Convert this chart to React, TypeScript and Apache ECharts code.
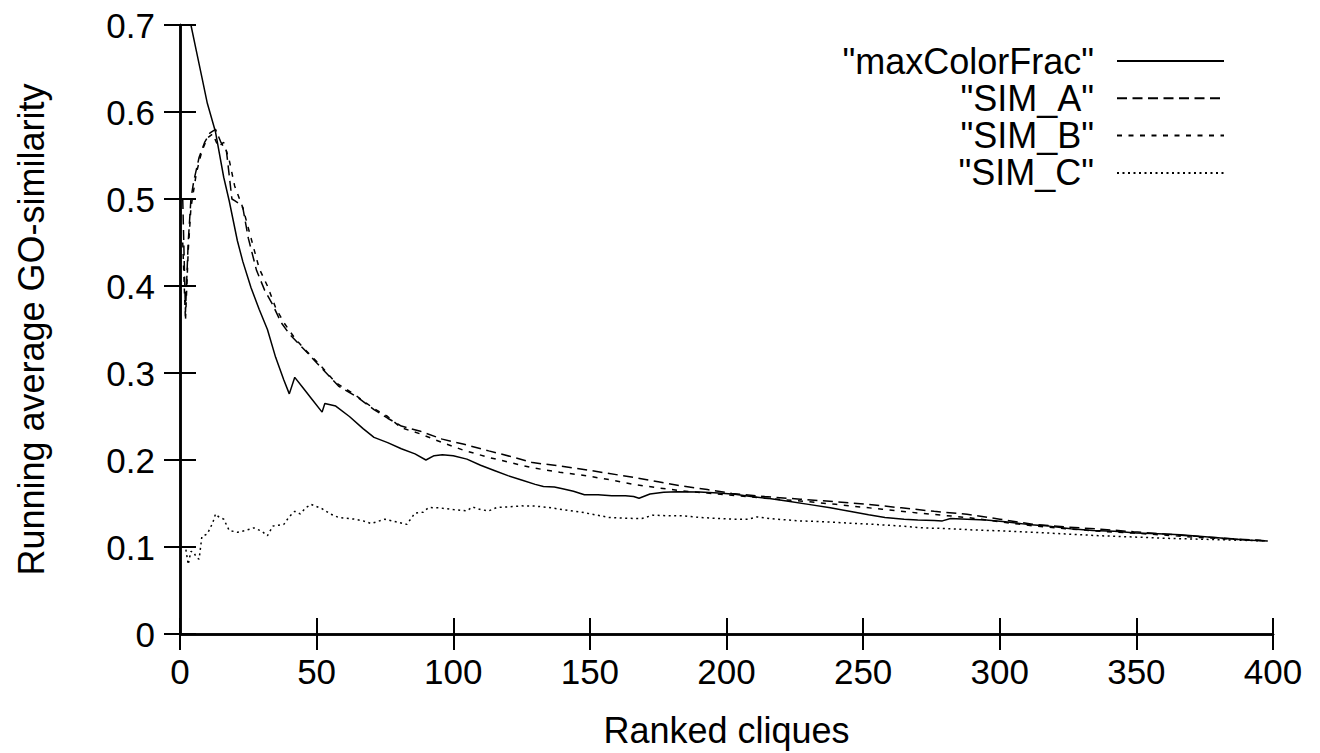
import React, { useEffect, useRef } from "react";
import * as echarts from "echarts";

const xTickValues = [0, 50, 100, 150, 200, 250, 300, 350, 400];
const yTickValues = [0, 0.1, 0.2, 0.3, 0.4, 0.5, 0.6, 0.7];

const seriesNames = ['"maxColorFrac"', '"SIM_A"', '"SIM_B"', '"SIM_C"'];

const maxColorFracX = [1, 2, 3, 4, 6, 8, 10, 13, 16, 18, 21, 23, 26, 29, 32, 35, 38, 40, 42, 45, 48, 52, 53, 57, 62, 67, 71, 76, 81, 86, 90, 93, 96, 100, 105, 110, 115, 120, 125, 130, 133, 137, 140, 144, 148, 153, 158, 163, 166, 168, 172, 177, 182, 190, 197, 203, 209, 215, 222, 230, 238, 245, 252, 258, 265, 270, 276, 279, 282, 288, 295, 302, 310, 318, 326, 334, 342, 350, 358, 366, 374, 382, 390, 398];
const maxColorFracY = [0.95, 0.82, 0.75, 0.7, 0.67, 0.64, 0.61, 0.577, 0.525, 0.498, 0.452, 0.428, 0.398, 0.373, 0.35, 0.318, 0.292, 0.276, 0.295, 0.283, 0.271, 0.255, 0.265, 0.262, 0.25, 0.236, 0.226, 0.22, 0.213, 0.207, 0.2, 0.205, 0.206, 0.205, 0.201, 0.194, 0.188, 0.182, 0.177, 0.172, 0.1695, 0.169, 0.167, 0.164, 0.16, 0.16, 0.159, 0.159, 0.158, 0.156, 0.161, 0.163, 0.1635, 0.1633, 0.162, 0.1605, 0.158, 0.156, 0.153, 0.149, 0.145, 0.141, 0.137, 0.134, 0.132, 0.131, 0.1305, 0.13, 0.1327, 0.132, 0.131, 0.129, 0.126, 0.124, 0.121, 0.119, 0.118, 0.116, 0.1152, 0.114, 0.112, 0.11, 0.108, 0.107];

const simAX = [1, 2, 3, 4, 5, 7, 9, 11, 13, 15, 17, 19, 20, 22, 23, 25, 28, 31, 34, 37, 40, 43, 47, 52, 58, 65, 71, 76, 81, 88, 96, 104, 113, 121, 129, 137, 146, 156, 166, 175, 184, 193, 202, 214, 227, 240, 252, 264, 276, 288, 300, 312, 324, 337, 349, 361, 373, 385, 398];
const simAY = [0.5, 0.37, 0.45, 0.5, 0.52, 0.548, 0.565, 0.576, 0.58, 0.565, 0.555, 0.5, 0.498, 0.494, 0.49, 0.455, 0.418, 0.395, 0.378, 0.358, 0.345, 0.335, 0.322, 0.305, 0.285, 0.272, 0.258, 0.248, 0.239, 0.233, 0.224, 0.218, 0.2105, 0.204, 0.197, 0.194, 0.19, 0.185, 0.18, 0.175, 0.17, 0.166, 0.1615, 0.158, 0.155, 0.152, 0.149, 0.145, 0.141, 0.1377, 0.132, 0.1262, 0.123, 0.1205, 0.1175, 0.1148, 0.112, 0.1095, 0.1071];

const simBX = [1, 2, 3, 4, 6, 8, 10, 12, 14, 16, 18, 20, 23, 26, 29, 32, 35, 38, 42, 46, 51, 57, 64, 71, 76, 81, 88, 96, 104, 113, 121, 129, 139, 149, 158, 166, 175, 184, 193, 202, 214, 227, 240, 257, 272, 288, 300, 312, 324, 337, 349, 361, 373, 385, 398];
const simBY = [0.45, 0.36, 0.44, 0.49, 0.53, 0.555, 0.57, 0.575, 0.56, 0.565, 0.545, 0.515, 0.49, 0.455, 0.42, 0.4, 0.375, 0.358, 0.34, 0.326, 0.31, 0.289, 0.275, 0.259, 0.25, 0.237, 0.23, 0.22, 0.211, 0.203, 0.197, 0.191, 0.186, 0.1817, 0.177, 0.172, 0.168, 0.1645, 0.162, 0.1595, 0.156, 0.153, 0.149, 0.1434, 0.1385, 0.1339, 0.129, 0.1243, 0.121, 0.118, 0.116, 0.1135, 0.111, 0.109, 0.107];

const simCX = [1, 2, 3, 4, 5, 6, 7, 8, 10, 12, 13, 14, 16, 18, 21, 24, 27, 30, 32, 34, 36, 38, 40, 42, 44, 46, 48, 52, 55, 58, 61, 64, 67, 70, 73, 75, 79, 83, 86, 89, 91, 95, 100, 105, 107, 110, 113, 116, 120, 125, 130, 135, 141, 147, 152, 157, 163, 169, 173, 178, 184, 190, 196, 202, 208, 211, 218, 227, 236, 245, 254, 263, 272, 282, 291, 300, 312, 324, 337, 349, 361, 373, 385, 398];
const simCY = [0.1, 0.1, 0.08, 0.095, 0.094, 0.088, 0.086, 0.112, 0.115, 0.128, 0.138, 0.135, 0.132, 0.119, 0.117, 0.119, 0.122, 0.118, 0.113, 0.124, 0.125, 0.126, 0.135, 0.141, 0.138, 0.145, 0.149, 0.144, 0.138, 0.134, 0.133, 0.132, 0.13, 0.127, 0.13, 0.132, 0.129, 0.126, 0.139, 0.14, 0.1454, 0.145, 0.143, 0.1415, 0.146, 0.143, 0.1415, 0.1454, 0.146, 0.1473, 0.147, 0.1454, 0.1425, 0.14, 0.137, 0.134, 0.133, 0.1327, 0.1366, 0.136, 0.1358, 0.134, 0.133, 0.132, 0.132, 0.1346, 0.132, 0.13, 0.129, 0.1274, 0.126, 0.1243, 0.122, 0.121, 0.1195, 0.1186, 0.117, 0.115, 0.1129, 0.1115, 0.11, 0.109, 0.108, 0.107];

const FONT = "Liberation Sans, Arial, sans-serif";
const FS_TICK = 35;
const FS_TEXT = 36;

function pairs(xs: number[], ys: number[]) {
  return xs.map((x, i) => [x, ys[i]]);
}

export default function App() {
  const ref = useRef<HTMLDivElement>(null);
  useEffect(() => {
    document.body.style.margin = "0";
    if (!ref.current) return;
    const chart = echarts.init(ref.current, null, { renderer: "svg" });
    const xMin = xTickValues[0];
    const xMax = xTickValues[xTickValues.length - 1];
    const yMin = yTickValues[0];
    const yMax = yTickValues[yTickValues.length - 1];
    const axisCommon = {
      axisLine: { show: true, lineStyle: { color: "#000", width: 2.5 } },
      axisTick: { show: true, inside: true, length: 16, lineStyle: { color: "#000", width: 2 } },
      splitLine: { show: false },
    };
    const mk = (name: string, data: number[][], type: any) => ({
      name,
      type: "line",
      data,
      symbol: "none",
      showSymbol: false,
      clip: true,
      lineStyle: { color: "#000", width: 1.5, type },
      itemStyle: { color: "#000" },
      emphasis: { disabled: true },
    });
    chart.setOption({
      animation: false,
      backgroundColor: "#fff",
      textStyle: { fontFamily: FONT },
      grid: { left: 180, right: 47, top: 25, bottom: 118, containLabel: false },
      legend: {
        orient: "vertical",
        align: "right",
        right: 90,
        top: 38,
        itemWidth: 107,
        itemHeight: 14,
        itemGap: 1.3,
        selectedMode: false,
        data: seriesNames,
        itemStyle: { opacity: 0, borderWidth: 0 },
        textStyle: { fontSize: FS_TEXT, color: "#000", fontFamily: FONT, lineHeight: 33.3, padding: [0, 18, 0, 0] },
      },
      xAxis: [
        {
          type: "value",
          min: xMin,
          max: xMax,
          interval: 50,
          position: "bottom",
          ...axisCommon,
          axisLabel: { color: "#000", fontSize: FS_TICK, fontFamily: FONT, margin: 20 },
          name: "Ranked cliques",
          nameLocation: "middle",
          nameGap: 78,
          nameTextStyle: { color: "#000", fontSize: FS_TEXT, fontFamily: FONT },
        },
        {
          type: "value",
          min: xMin,
          max: xMax,
          interval: 50,
          position: "top",
          ...axisCommon,
          axisLabel: { show: false },
        },
      ],
      yAxis: [
        {
          type: "value",
          min: yMin,
          max: yMax,
          interval: 0.1,
          position: "left",
          ...axisCommon,
          axisLabel: {
            color: "#000",
            fontSize: FS_TICK,
            fontFamily: FONT,
            margin: 25,
            formatter: (v: number) => (v === 0 ? "0" : v.toFixed(1)),
          },
          name: "Running average GO-similarity",
          nameLocation: "middle",
          nameRotate: 90,
          nameGap: 131,
          nameTextStyle: { color: "#000", fontSize: FS_TEXT, fontFamily: FONT },
        },
        {
          type: "value",
          min: yMin,
          max: yMax,
          interval: 0.1,
          position: "right",
          ...axisCommon,
          axisLabel: { show: false },
        },
      ],
      series: [
        mk(seriesNames[0], pairs(maxColorFracX, maxColorFracY), "solid"),
        mk(seriesNames[1], pairs(simAX, simAY), [10, 5.5]),
        mk(seriesNames[2], pairs(simBX, simBY), [5, 6.5]),
        mk(seriesNames[3], pairs(simCX, simCY), [2, 3.5]),
      ],
    });
    return () => chart.dispose();
  }, []);
  return <div ref={ref} style={{ width: 1320, height: 753 }} />;
}
